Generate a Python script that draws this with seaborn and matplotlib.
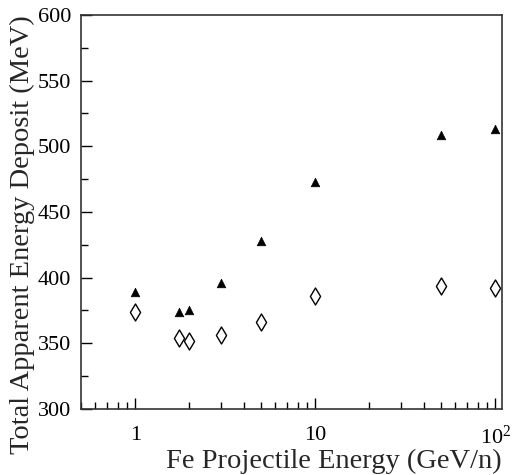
import numpy as np
import pandas as pd
import matplotlib
matplotlib.use("Agg")
import matplotlib.pyplot as plt
import seaborn as sns
from matplotlib.ticker import FixedLocator, FixedFormatter, LogLocator, MultipleLocator, NullFormatter

energy = [1, 1.75, 2, 3, 5, 10, 50, 100]
deposit_filled = [389, 374, 375, 396, 428, 473, 509, 513]
deposit_open = [374, 354, 352, 356, 366, 386, 394, 392]

sns.set_theme(style="ticks")
plt.rcParams['font.family'] = ['Liberation Serif', 'DejaVu Serif']
plt.rcParams['mathtext.fontset'] = 'custom'
plt.rcParams['mathtext.rm'] = 'Liberation Serif'

df = pd.DataFrame({"E": energy + energy,
                   "D": deposit_filled + deposit_open,
                   "s": ["filled"] * len(energy) + ["open"] * len(energy)})

fig = plt.figure(figsize=(5.17, 4.75), dpi=100)
ax = fig.add_axes([81/517, 1 - 409/475, (502-81)/517, (409-15)/475])

sns.scatterplot(data=df[df.s == "filled"], x="E", y="D", marker="^", s=38,
                color="black", edgecolor="black", linewidth=0.5, ax=ax, legend=False)
sns.scatterplot(data=df[df.s == "open"], x="E", y="D", marker="d", s=75,
                facecolor="white", edgecolor="black", linewidth=1.0, ax=ax, legend=False)

ax.set_xscale("log")
ax.set_xlim(0.5, 109)
ax.set_ylim(300, 600)

ax.xaxis.set_major_locator(FixedLocator([1, 10, 100]))
ax.xaxis.set_major_formatter(FixedFormatter(["1", "10", r"$\mathregular{10^2}$"]))
ax.xaxis.set_minor_locator(LogLocator(base=10, subs=np.arange(2, 10)))
ax.xaxis.set_minor_formatter(NullFormatter())
ax.yaxis.set_major_locator(MultipleLocator(50))
ax.yaxis.set_minor_locator(MultipleLocator(25))

ax.tick_params(which="major", direction="in", length=8, width=1, labelsize=16, colors="black")
ax.tick_params(which="minor", direction="in", length=5, width=1, colors="black")
ax.tick_params(axis="y", which="both", left=True, right=False, pad=7)
ax.tick_params(axis="x", which="both", bottom=True, top=False, pad=12)

for sp in ax.spines.values():
    sp.set_visible(True)
    sp.set_color("#333333")
    sp.set_linewidth(1.2)

ax.set_xlabel("Fe Projectile Energy (GeV/n)", fontsize=20.5, loc="right", labelpad=0)
ax.set_ylabel("Total Apparent Energy Deposit (MeV)", fontsize=20.5, loc="top", labelpad=2)

fig.savefig("out.png", dpi=100)
